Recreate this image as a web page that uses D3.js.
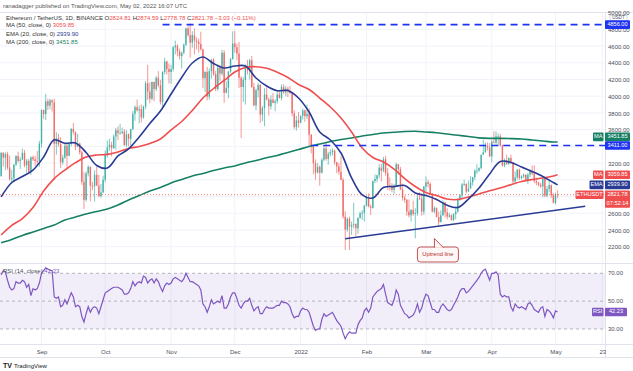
<!DOCTYPE html>
<html>
<head>
<meta charset="utf-8">
<script src="https://cdn.jsdelivr.net/npm/d3@7"></script>
<style>
  body { margin: 0; background: #fff; }
  svg { display: block; font-family: "Liberation Sans", Arial, sans-serif; }
</style>
</head>
<body>
<svg id="chart" width="633" height="371"></svg>
<script>
// ETHUSDT daily candles, 2021-08-13 .. 2022-05-02 (open = previous close)
const startDay = "2021-08-13";
const firstOpen = 3045;
const closes = [
  3322,3265,3308,3146,3012,3018,3182,3285,3225,3243,3323,3172,3228,3096,3270,3245,3225,3224,3433,
  3835,3786,3939,3887,3950,3926,3430,3495,3425,3210,3266,3408,3287,3430,3609,3570,3398,3434,3330,2975,2760,3077,3155,2930,2925,3060,2930,2806,2850,3000,
  3310,3390,3418,3380,3518,3592,3560,3560,3577,3415,3545,3490,3605,3790,3870,3830,3845,3745,3875,4155,4055,3970,4170,4085,4220,4130,3930,4290,4415,4325,4290,
  4325,4585,4605,4535,4480,4520,4615,4810,4730,4640,4730,4665,4650,4625,4560,4215,4290,3995,4300,4435,4265,4085,4340,4270,4520,4040,4100,4295,4445,4630,
  4585,4510,4220,4110,4195,4350,4310,4430,4110,3890,4070,4135,3780,3860,4020,3960,3880,3960,3920,3940,4020,3980,4110,4045,4090,4060,4035,3795,3630,3710,3680,
  3765,3830,3760,3790,3540,3400,3200,3085,3155,3085,3240,3375,3250,3310,3330,3350,3210,3160,3095,3000,2560,2405,2535,2440,2460,2470,2420,2545,2600,2605,2690,
  2790,2680,2665,2985,3010,3055,3145,3110,3245,3080,2930,2920,2880,2930,3185,3125,2885,2785,2760,2620,2575,2640,2590,2600,2780,2775,2620,2920,
  2970,2950,2835,2620,2665,2555,2495,2575,2730,2610,2560,2575,2520,2590,2620,2770,2815,2945,2950,2860,2895,2970,3030,3110,3110,3140,3300,3330,3400,3385,3280,
  3455,3445,3520,3520,3410,3170,3235,3190,3260,3210,2980,3030,3120,3020,3040,3060,2990,3060,3105,3075,2985,2965,2940,2920,3010,2810,2890,2935,2815,2725,
  2825,2821.78
];
const highs = [
  3331,3330,3330,3335,3290,3120,3185,3295,3335,3270,3375,3358,3249,3250,3280,3290,3285,3345,3466,
  3839,3840,4025,3970,3970,3963,3970,3570,3550,3510,3300,3430,3430,3445,3618,3680,3580,3550,3445,3350,3090,3100,3175,3160,2975,3117,3160,3060,2950,3050,
  3350,3470,3490,3455,3545,3620,3640,3670,3625,3605,3595,3555,3610,3823,3892,3960,3890,3900,3890,4180,4375,4165,4175,4175,4240,4300,4195,4300,4460,4425,4390,
  4375,4600,4665,4620,4570,4535,4630,4820,4836,4868,4778,4810,4705,4690,4770,4570,4300,4350,4330,4445,4455,4305,4380,4375,4555,4550,4180,4300,4460,4775,
  4780,4630,4650,4240,4230,4380,4435,4445,4480,4160,4090,4160,4145,3885,4095,4105,3985,4010,4040,3965,4060,4065,4140,4145,4125,4115,4125,4040,3830,3765,3810,
  3770,3855,3840,3900,3855,3545,3415,3245,3200,3175,3260,3415,3440,3335,3365,3375,3360,3215,3200,3280,3025,2625,2550,2560,2500,2725,2480,2550,2620,2640,2700,
  2810,2835,2705,2990,3065,3060,3185,3190,3275,3285,3140,3030,2960,2950,3205,3190,3155,2955,2810,2770,2765,2650,2750,2660,2830,2850,2815,2925,
  3040,3000,2970,2840,2680,2665,2620,2635,2755,2735,2660,2605,2590,2600,2655,2785,2825,2960,3000,2960,2990,3040,3035,3125,3185,3150,3300,3480,3445,3445,3440,
  3475,3580,3580,3555,3550,3420,3255,3300,3270,3300,3215,3100,3130,3135,3055,3075,3065,3080,3125,3170,3175,3025,2980,2965,3025,3040,2925,2990,2945,2845,
  2845,2874.59
];
const lows = [
  3036,3156,3113,3120,2990,2955,2970,3164,3205,3128,3235,3150,3083,3070,3060,3225,3166,3175,3158,
  3385,3729,3713,3835,3845,3816,3000,3300,3395,3140,3180,3248,3125,3280,3400,3540,3355,3390,3300,2940,2650,2740,3040,2743,2876,2740,2926,2790,2785,2840,
  2970,3265,3345,3280,3370,3360,3475,3540,3545,3405,3390,3400,3410,3595,3706,3815,3675,3685,3730,3845,3955,3915,3950,3940,4060,4105,3900,3880,4260,4260,4150,
  4150,4295,4500,4475,4440,4330,4500,4600,4710,4460,4580,4500,4560,4520,4545,4100,4050,3950,3960,4210,4240,4060,4065,4180,4245,3920,4035,3975,4280,4435,
  4520,4430,4100,3500,3930,3900,4260,4200,4100,3880,3830,3985,3680,3700,3640,3950,3770,3840,3915,3820,3910,3970,3950,4030,4000,3990,4030,3760,3605,3590,3625,
  3680,3720,3695,3725,3390,3315,3065,3000,3075,2930,3075,3220,3230,3180,3280,3290,3180,3080,3060,2995,2535,2160,2380,2160,2340,2420,2330,2355,2535,2520,2500,
  2680,2670,2580,2655,2960,2970,3020,2980,3090,3050,2880,2870,2850,2830,2925,3060,2875,2750,2725,2570,2550,2500,2570,2300,2570,2760,2570,2580,
  2860,2910,2815,2610,2600,2550,2455,2490,2570,2550,2525,2550,2510,2505,2530,2610,2750,2775,2925,2840,2855,2895,2930,3000,3070,3095,3125,3300,3325,3350,3275,
  3210,3435,3420,3405,3400,3160,3150,3180,3175,3200,2955,2950,3000,3000,3005,3020,2985,2950,3030,3055,2960,2935,2920,2905,2790,2790,2790,2850,2780,2720,
  2705,2778.78
];

// moving averages read every 5th candle (last one on the final candle)
const ema20 = [2795,2968,3040,3117,3273,3478,3437,3440,3327,3171,3141,3285,3369,3512,3673,3823,4026,4224,4397,4469,4391,4337,4361,4361,4218,4122,4066,4068,3978,3811,3572,3476,3321,3022,2819,2783,2908,2920,2932,2842,2812,2765,2695,2669,2770,2902,3070,3219,3207,3153,3099,3040,2968,2939.90];
const ma50 = [2340,2454,2537,2669,2866,3015,3117,3205,3273,3297,3304,3333,3375,3398,3434,3488,3596,3697,3829,3978,4092,4188,4289,4343,4353,4334,4287,4224,4140,4080,3978,3871,3739,3572,3380,3267,3213,3129,3015,2920,2848,2812,2770,2764,2794,2830,2869,2902,2942,2980,3004,3022,3046,3059.85];
const ma200 = [2248,2286,2334,2376,2418,2460,2519,2555,2591,2621,2651,2699,2759,2812,2866,2908,2962,3004,3046,3076,3112,3142,3166,3202,3231,3263,3291,3327,3362,3398,3428,3458,3482,3500,3524,3542,3560,3569,3578,3581,3572,3562,3548,3532,3518,3502,3496,3496,3493,3488,3476,3464,3452,3451.85];

// RSI (14), one value per candle
const rsi = [
  69,72,71,65,60,58,59,64,63,63, 65,64,60,62,54,59,58,59,63,70,
  72,74,73,72,72,53,52,53,46,47, 51,48,52,56,53,46,47,46,39,35,
  41,46,42,45,46,45,41,46,51,56, 57,58,59,60,60,60,59,58,55,55,
  56,59,64,61,63,64,63,68,67,63, 65,66,63,66,64,60,57,61,63,62,
  63,66,67,66,65,64,66,70,67,64, 64,63,62,61,58,48,46,42,46,51,
  48,49,50,49,54,45,45,48,53,56, 56,52,47,45,48,50,50,52,47,43,
  45,46,41,41,44,46,45,45,45,46, 47,47,50,49,49,48,46,41,38,39,
  39,43,45,44,44,42,37,32,29,30, 30,37,41,39,40,41,42,39,36,34,
  32,27,23,26,28,27,27,27,33,36, 38,43,45,42,45,53,55,57,58,59,
  62,55,49,48,47,51,58,55,47,44, 41,40,38,39,40,43,48,42,45,51,
  55,54,49,44,44,42,42,46,48,46, 44,43,44,47,50,53,57,59,59,56,
  57,59,61,63,65,67,70,72,73,69, 65,70,70,71,69,55,53,54,53,53,
  46,43,48,46,45,46,45,44,48,49, 47,44,43,42,45,46,39,44,43,41,
  38,43,42.23
];

// drawings
const levelPrices = [4856, 3411];
const levelStarts = ["2021-10-28", "2022-01-06"];
const trendPoints = [["2022-01-22", 2295], ["2022-05-15", 2683]];
const calloutAt = ["2022-03-05", 2298];
const calloutText = "Uptrend line";

// axes
const priceTicks = d3.range(2000, 5001, 200);
const rsiLevels = [70, 50, 30];
const monthTicks = ["2021-09-01","2021-10-01","2021-11-01","2021-12-01","2022-01-01","2022-02-01","2022-03-01","2022-04-01","2022-05-01","2022-05-23"];
const monthLabels = ["Sep","Oct","Nov","Dec","2022","Feb","Mar","Apr","May","23"];

const headerText = "ranadagger published on TradingView.com, May 02, 2022 16:07 UTC";
const symbolText = "Ethereum / TetherUS, 1D, BINANCE";
const ohlcLabels = ["O", "H", "L", "C"];
const ohlcValues = ["2824.81", "2874.59", "2778.78", "2821.78 \u22123.03 (\u22120.11%)"];
const countdown = "07:52:14";

// ---------------------------------------------------------------
const parse = d3.utcParse("%Y-%m-%d");
const day0 = parse(startDay);
const dates = closes.map((c, i) => d3.utcDay.offset(day0, i));
const opens = [firstOpen].concat(closes.slice(0, -1));
const maDays = d3.range(0, 261, 5).concat([262]);

const paneRight = 605;
const up = "#26a69a", down = "#ef5350";
const red = "#f04e4e", navy = "#2a3b96", green = "#168064", blue = "#1f33f2", purple = "#7e57c2";
const gridColor = "#f0f3fa", borderColor = "#e0e3eb", textColor = "#4a4e59";

const x = d3.scaleUtc().domain([parse("2021-09-01"), parse("2022-05-01")]).range([41.5, 555.5]);
const y = d3.scaleLinear().domain([2200, 4800]).range([246.7, 29.3]);
const yR = d3.scaleLinear().domain([30, 70]).range([329, 273.3]);

const svg = d3.select("#chart");
const defs = svg.append("defs");
defs.append("clipPath").attr("id", "pricePane").append("rect")
  .attr("x", 0).attr("y", 13).attr("width", paneRight).attr("height", 250);
defs.append("clipPath").attr("id", "rsiPane").append("rect")
  .attr("x", 0).attr("y", 264).attr("width", paneRight).attr("height", 80);
defs.append("clipPath").attr("id", "axisClip").append("rect")
  .attr("x", paneRight).attr("y", 8).attr("width", 40).attr("height", 255);

// grid
const monthDates = monthTicks.map(parse);
svg.append("g").selectAll("line").data(monthDates).join("line")
  .attr("x1", d => x(d)).attr("x2", d => x(d)).attr("y1", 13).attr("y2", 344)
  .attr("stroke", gridColor);
svg.append("g").attr("clip-path", "url(#pricePane)")
  .selectAll("line").data(priceTicks).join("line")
  .attr("x1", 0).attr("x2", paneRight).attr("y1", d => y(d)).attr("y2", d => y(d))
  .attr("stroke", gridColor);

// borders
const borders = svg.append("g").attr("stroke", borderColor).attr("shape-rendering", "crispEdges");
borders.append("line").attr("x1", 0).attr("x2", 633).attr("y1", 12.5).attr("y2", 12.5);
borders.append("line").attr("x1", 0).attr("x2", 633).attr("y1", 263.5).attr("y2", 263.5);
borders.append("line").attr("x1", 0).attr("x2", 633).attr("y1", 344.5).attr("y2", 344.5);
borders.append("line").attr("x1", 0).attr("x2", 633).attr("y1", 357.5).attr("y2", 357.5);
borders.append("line").attr("x1", paneRight + 0.5).attr("x2", paneRight + 0.5).attr("y1", 12.5).attr("y2", 357.5);

// candles
const candles = closes.map((c, i) => ({ date: dates[i], open: opens[i], high: highs[i], low: lows[i], close: c }));
const cg = svg.append("g").attr("clip-path", "url(#pricePane)").attr("opacity", 0.85);
cg.selectAll("line").data(candles).join("line")
  .attr("x1", d => x(d.date)).attr("x2", d => x(d.date))
  .attr("y1", d => y(d.high)).attr("y2", d => y(d.low))
  .attr("stroke", d => d.close >= d.open ? up : down).attr("stroke-width", 0.7);
cg.selectAll("rect").data(candles).join("rect")
  .attr("x", d => x(d.date) - 0.7).attr("width", 1.4)
  .attr("y", d => y(Math.max(d.open, d.close)))
  .attr("height", d => Math.max(0.8, Math.abs(y(d.open) - y(d.close))))
  .attr("fill", d => d.close >= d.open ? up : down);

// moving averages
const maLine = d3.line().x((v, i) => x(dates[maDays[i]])).y(v => y(v)).curve(d3.curveCatmullRom);
const mg = svg.append("g").attr("clip-path", "url(#pricePane)").attr("fill", "none").attr("stroke-width", 1.6);
mg.append("path").attr("d", maLine(ma200)).attr("stroke", green);
mg.append("path").attr("d", maLine(ma50)).attr("stroke", red);
mg.append("path").attr("d", maLine(ema20)).attr("stroke", navy);

// last price line
const lastClose = closes[closes.length - 1];
svg.append("line").attr("x1", 0).attr("x2", paneRight)
  .attr("y1", y(lastClose)).attr("y2", y(lastClose))
  .attr("stroke", down).attr("stroke-dasharray", "1,2").attr("opacity", 0.8);

// horizontal levels
svg.append("g").selectAll("line").data(levelPrices).join("line")
  .attr("x1", (d, i) => x(parse(levelStarts[i]))).attr("x2", paneRight)
  .attr("y1", d => y(d)).attr("y2", d => y(d))
  .attr("stroke", blue).attr("stroke-width", 1.6).attr("stroke-dasharray", "7,5");

// trend line
svg.append("path")
  .attr("d", d3.line().x(d => x(parse(d[0]))).y(d => y(d[1]))(trendPoints))
  .attr("stroke", navy).attr("stroke-width", 1.6).attr("fill", "none");

// callout
const tipX = x(parse(calloutAt[0])), tipY = y(calloutAt[1]);
const callout = svg.append("g");
callout.append("rect")
  .attr("x", tipX - 17).attr("y", tipY + 8.5).attr("width", 41).attr("height", 15).attr("rx", 3)
  .attr("fill", "#fff7f7").attr("stroke", "#b22a2a").attr("stroke-width", 0.8);
callout.append("path")
  .attr("d", `M${tipX},${tipY + 9.2}L${tipX},${tipY}L${tipX + 9},${tipY + 9.2}`)
  .attr("fill", "#fff7f7").attr("stroke", "#b22a2a").attr("stroke-width", 0.8);
callout.append("text").attr("x", tipX + 3.5).attr("y", tipY + 16)
  .attr("text-anchor", "middle").attr("dominant-baseline", "middle")
  .attr("font-size", 5.8).attr("fill", "#b22a2a").text(calloutText);

// axis tags, pushed apart where they would collide
const tags = [
  { price: levelPrices[0], fill: blue },
  { price: ma200[ma200.length - 1], fill: green, tag: "MA" },
  { price: levelPrices[1], fill: blue },
  { price: ma50[ma50.length - 1], fill: red, tag: "MA" },
  { price: ema20[ema20.length - 1], fill: navy, tag: "EMA" },
  { price: lastClose, fill: red, tag: "ETHUSDT", sub: countdown }
];
tags.forEach(t => t.y = y(t.price));
tags.sort((a, b) => a.y - b.y);
for (let i = tags.length - 2; i >= 0; i--) {
  if (tags[i].y > tags[i + 1].y - 8.6) tags[i].y = tags[i + 1].y - 8.6;
}

// price axis: labels sitting under a tag are hidden, as on the original
const hidden = p => {
  const d = tags.map(t => y(p) - t.y);
  const near = d.filter(v => Math.abs(v) < 6);
  return d.some(v => Math.abs(v) < 4.5) || (near.some(v => v > 0) && near.some(v => v < 0));
};
svg.append("g").attr("clip-path", "url(#axisClip)")
  .append("g").attr("transform", `translate(${paneRight + 3},0)`)
  .call(d3.axisRight(y).tickValues(priceTicks.filter(d => d > 2000 && !hidden(d)))
    .tickFormat(d3.format(".2f")).tickSize(0))
  .call(g => g.select(".domain").remove())
  .call(g => g.selectAll("text").attr("x", 0).attr("dy", "0.35em")
    .attr("font-size", 6).attr("fill", textColor).attr("font-family", null));

// USDT unit box
svg.append("rect").attr("x", 610).attr("y", 15.2).attr("width", 17).attr("height", 5.6)
  .attr("fill", "#fff").attr("stroke", "#b2b5be").attr("stroke-width", 0.5);
svg.append("text").attr("x", 618.5).attr("y", 18.2).attr("text-anchor", "middle")
  .attr("dominant-baseline", "middle").attr("font-size", 4.6).attr("fill", textColor).text("USDT");

const tg = svg.append("g").attr("font-size", 5.6).attr("fill", "#fff");
tags.forEach(t => {
  const h = t.sub ? 17.4 : 8.6;
  tg.append("rect").attr("x", paneRight).attr("y", t.y - 4.3).attr("width", 25).attr("height", h)
    .attr("rx", 1).attr("fill", t.fill);
  tg.append("text").attr("x", paneRight + 12.5).attr("y", t.y).attr("text-anchor", "middle")
    .attr("dominant-baseline", "middle").text(d3.format(".2f")(t.price));
  if (t.sub) {
    tg.append("text").attr("x", paneRight + 12.5).attr("y", t.y + 8.4).attr("text-anchor", "middle")
      .attr("dominant-baseline", "middle").text(t.sub);
  }
  if (t.tag) {
    const w = t.tag.length * 3.5 + 3.5;
    tg.append("rect").attr("x", paneRight - 1.5 - w).attr("y", t.y - 4.3).attr("width", w).attr("height", 8.6)
      .attr("rx", 1).attr("fill", t.fill);
    tg.append("text").attr("x", paneRight - 1.5 - w / 2).attr("y", t.y).attr("text-anchor", "middle")
      .attr("dominant-baseline", "middle").text(t.tag);
  }
});

// RSI pane
const rg = svg.append("g");
rg.append("rect").attr("x", 0).attr("width", paneRight)
  .attr("y", yR(70)).attr("height", yR(30) - yR(70))
  .attr("fill", purple).attr("opacity", 0.1);
rg.selectAll("line").data(rsiLevels).join("line")
  .attr("x1", 0).attr("x2", paneRight).attr("y1", d => yR(d)).attr("y2", d => yR(d))
  .attr("stroke", "#9598a1").attr("stroke-width", 0.7).attr("stroke-dasharray", "3,3");
rg.append("path").attr("clip-path", "url(#rsiPane)")
  .attr("d", d3.line().x((v, i) => x(dates[i])).y(v => yR(v))(rsi))
  .attr("fill", "none").attr("stroke", purple).attr("stroke-width", 1.2);
rg.selectAll("text.lvl").data(rsiLevels).join("text")
  .attr("x", paneRight + 3).attr("y", d => yR(d)).attr("dominant-baseline", "middle")
  .attr("font-size", 6).attr("fill", textColor).text(d => d3.format(".2f")(d));

const rsiLast = rsi[rsi.length - 1];
rg.append("rect").attr("x", paneRight).attr("y", yR(rsiLast) - 4.3).attr("width", 22).attr("height", 8.6)
  .attr("rx", 1).attr("fill", purple);
rg.append("text").attr("x", paneRight + 11).attr("y", yR(rsiLast)).attr("text-anchor", "middle")
  .attr("dominant-baseline", "middle").attr("font-size", 5.6).attr("fill", "#fff").text(d3.format(".2f")(rsiLast));
rg.append("rect").attr("x", paneRight - 13).attr("y", yR(rsiLast) - 4.3).attr("width", 11.5).attr("height", 8.6)
  .attr("rx", 1).attr("fill", purple);
rg.append("text").attr("x", paneRight - 7.25).attr("y", yR(rsiLast)).attr("text-anchor", "middle")
  .attr("dominant-baseline", "middle").attr("font-size", 5.6).attr("fill", "#fff").text("RSI");
rg.append("text").attr("x", 3).attr("y", 271).attr("dominant-baseline", "middle").attr("font-size", 6)
  .attr("fill", textColor)
  .call(t => t.append("tspan").text("RSI (14, close) "))
  .call(t => t.append("tspan").attr("fill", purple).text(d3.format(".2f")(rsiLast)));

// time axis
svg.append("g").attr("transform", "translate(0,352)")
  .call(d3.axisBottom(x).tickValues(monthDates).tickFormat((d, i) => monthLabels[i]).tickSize(0))
  .call(g => g.select(".domain").remove())
  .call(g => g.selectAll("text").attr("y", 0).attr("dy", "0.35em")
    .attr("font-size", 6).attr("fill", textColor).attr("font-family", null));

// header and legend
svg.append("text").attr("x", 3).attr("y", 6.5).attr("dominant-baseline", "middle")
  .attr("font-size", 6).attr("fill", "#555").text(headerText);

const legend = svg.append("g").attr("font-size", 6).attr("fill", "#333");
const row1 = legend.append("text").attr("x", 6).attr("y", 17.5).attr("dominant-baseline", "middle");
row1.append("tspan").text(symbolText + "  ");
ohlcLabels.forEach((l, i) => {
  row1.append("tspan").text(l);
  row1.append("tspan").attr("fill", red).text(ohlcValues[i] + " ");
});
const maRows = [
  ["MA (50, close, 0)", ma50, red],
  ["EMA (20, close, 0)", ema20, navy],
  ["MA (200, close, 0)", ma200, green]
];
maRows.forEach((r, i) => {
  const t = legend.append("text").attr("x", 6).attr("y", 25.2 + i * 8.4).attr("dominant-baseline", "middle");
  t.append("tspan").text(r[0] + "  ");
  t.append("tspan").attr("fill", r[2]).text(d3.format(".2f")(r[1][r[1].length - 1]));
});

// footer logo
svg.append("text").attr("x", 3).attr("y", 366).attr("dominant-baseline", "middle")
  .attr("font-size", 6).attr("fill", "#131722")
  .call(t => t.append("tspan").attr("font-weight", "bold").attr("font-size", 7).text("TV "))
  .call(t => t.append("tspan").text("TradingView"));
</script>
</body>
</html>
